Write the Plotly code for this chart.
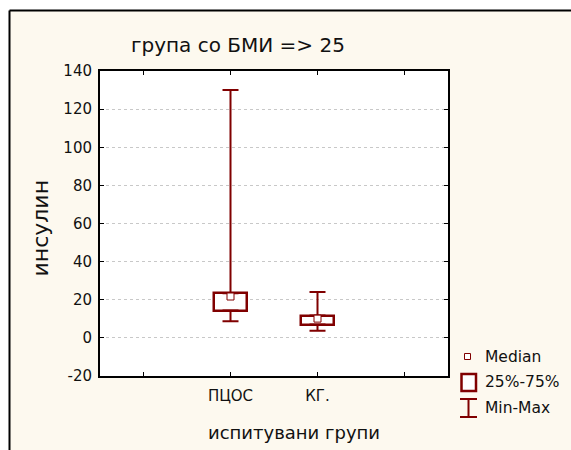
import plotly.graph_objects as go

# ---- data ----
groups = ["ПЦОС", "КГ."]
minimum = [8.7, 3.7]
q1 = [14.3, 7.0]
median = [21.7, 10.1]
q3 = [23.4, 11.7]
maximum = [130.0, 24.1]
yticks = [-20, 0, 20, 40, 60, 80, 100, 120, 140]
ytick_labels = ["-20", "0", "20", "40", "60", "80", "100", "120", "140"]

DARK = "#800000"
BG = "#fdf9ef"
FONT = "DejaVu Sans, Liberation Sans, Arial, sans-serif"

xpos = [0, 1]

fig = go.Figure()

# upper whiskers
fig.add_trace(go.Scatter(
    x=xpos, y=q3, mode="markers", marker=dict(size=1, color="rgba(0,0,0,0)"),
    error_y=dict(type="data", symmetric=False,
                 array=[mx - b for mx, b in zip(maximum, q3)],
                 arrayminus=[0, 0], color=DARK, thickness=2, width=8),
    showlegend=False, hoverinfo="skip"))
# lower whiskers
fig.add_trace(go.Scatter(
    x=xpos, y=q1, mode="markers", marker=dict(size=1, color="rgba(0,0,0,0)"),
    error_y=dict(type="data", symmetric=False,
                 array=[0, 0],
                 arrayminus=[b - mn for b, mn in zip(q1, minimum)],
                 color=DARK, thickness=2, width=8),
    showlegend=False, hoverinfo="skip"))

# boxes
fig.add_trace(go.Bar(
    x=xpos, y=[b - a for a, b in zip(q1, q3)], base=q1, width=0.38,
    marker=dict(color="white", line=dict(color=DARK, width=2.5)),
    showlegend=False, hoverinfo="skip"))

# medians
fig.add_trace(go.Scatter(
    x=xpos, y=median, mode="markers",
    marker=dict(symbol="square", size=7, color="white", line=dict(color=DARK, width=1)),
    showlegend=False, hoverinfo="skip"))

# plot area geometry (px)
L, R, T, B = 100, 448, 71, 376
W, H = 571, 450
pw, ph = R - L, B - T

def px(x):
    return (x - L) / pw

def py(y):
    return (B - y) / ph

shapes = []
# white outside strip + outer frame lines
shapes.append(dict(type="rect", xref="paper", yref="paper", x0=px(0), x1=px(W), y0=py(0), y1=py(10),
                   fillcolor="white", line=dict(width=0), layer="above"))
shapes.append(dict(type="rect", xref="paper", yref="paper", x0=px(0), x1=px(9), y0=py(0), y1=py(H),
                   fillcolor="white", line=dict(width=0), layer="above"))
shapes.append(dict(type="line", xref="paper", yref="paper", x0=px(9.5), x1=px(W + 5), y0=py(10.5), y1=py(10.5),
                   line=dict(color="black", width=2)))
shapes.append(dict(type="line", xref="paper", yref="paper", x0=px(9.5), x1=px(9.5), y0=py(10.5), y1=py(H + 5),
                   line=dict(color="black", width=2)))

# legend symbols
shapes.append(dict(type="rect", xref="paper", yref="paper", x0=px(464.5), x1=px(470.5), y0=py(353.5), y1=py(359.5),
                   fillcolor="white", line=dict(color=DARK, width=1)))
shapes.append(dict(type="rect", xref="paper", yref="paper", x0=px(461.5), x1=px(476), y0=py(374), y1=py(391),
                   fillcolor="white", line=dict(color=DARK, width=2.5)))
shapes.append(dict(type="line", xref="paper", yref="paper", x0=px(460), x1=px(477), y0=py(399), y1=py(399),
                   line=dict(color=DARK, width=2)))
shapes.append(dict(type="line", xref="paper", yref="paper", x0=px(460), x1=px(477), y0=py(417), y1=py(417),
                   line=dict(color=DARK, width=2)))
shapes.append(dict(type="line", xref="paper", yref="paper", x0=px(468.5), x1=px(468.5), y0=py(399), y1=py(417),
                   line=dict(color=DARK, width=2)))

annotations = []
for label, yy in [("Median", 356.5), ("25%-75%", 382), ("Min-Max", 408)]:
    annotations.append(dict(xref="paper", yref="paper", x=px(483), y=py(yy), text=label, showarrow=False,
                            xanchor="left", yanchor="middle",
                            font=dict(family=FONT, size=15.5, color="#111")))
annotations.append(dict(xref="paper", yref="paper", x=px(238), y=py(45), text="група со БМИ => 25", showarrow=False,
                        xanchor="center", yanchor="middle", font=dict(family=FONT, size=20, color="#111")))
annotations.append(dict(xref="paper", yref="paper", x=px(294), y=py(433), text="испитувани групи", showarrow=False,
                        xanchor="center", yanchor="middle", font=dict(family=FONT, size=18, color="#111")))
annotations.append(dict(xref="paper", yref="paper", x=px(39.5), y=py(228), text="инсулин", showarrow=False,
                        textangle=-90, xanchor="center", yanchor="middle",
                        font=dict(family=FONT, size=22, color="#111")))

fig.update_layout(
    width=W, height=H, autosize=False,
    margin=dict(l=L, r=W - R, t=T, b=H - B, pad=0),
    paper_bgcolor=BG, plot_bgcolor="white",
    font=dict(family=FONT, size=15, color="#111"),
    shapes=shapes, annotations=annotations,
    bargap=0,
)
fig.update_xaxes(
    range=[-1.5, 2.5], tickmode="array", tickvals=[-1, 0, 1, 2], ticktext=["", groups[0], groups[1], ""],
    ticks="inside", ticklen=4, tickcolor="black", showgrid=False, zeroline=False,
    showline=True, linecolor="black", linewidth=2, mirror="allticks",
    tickfont=dict(size=15), ticklabelstandoff=5,
)
fig.update_yaxes(
    range=[-20, 140], tickmode="array", tickvals=yticks, ticktext=ytick_labels,
    ticks="inside", ticklen=4, tickcolor="black",
    showgrid=True, gridcolor="#c8c8c8", griddash="dot", gridwidth=1, zeroline=False,
    showline=True, linecolor="black", linewidth=2, mirror="allticks",
    tickfont=dict(size=15), ticklabelstandoff=3,
)

fig.write_html("out.html")
